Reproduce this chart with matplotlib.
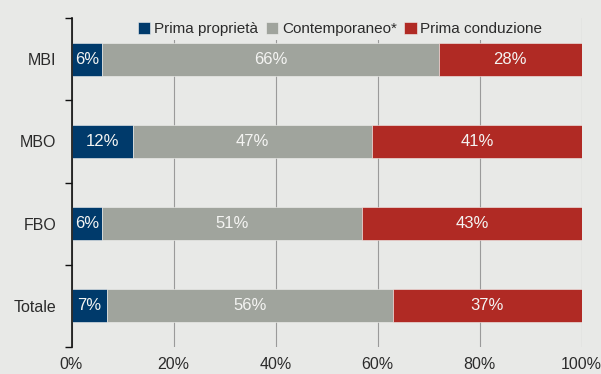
import matplotlib
matplotlib.use("Agg")
import matplotlib.pyplot as plt
import numpy as np

categories = ["MBI", "MBO", "FBO", "Totale"]
series_names = ["Prima proprietà", "Contemporaneo*", "Prima conduzione"]
prima_proprieta = [6, 12, 6, 7]
contemporaneo = [66, 47, 51, 56]
prima_conduzione = [28, 41, 43, 37]
x_ticks = [0, 20, 40, 60, 80, 100]
x_tick_labels = ["0%", "20%", "40%", "60%", "80%", "100%"]

colors = ["#003a6b", "#a0a49d", "#b02a24"]
bg = "#e8e9e7"
text_col = "#2b2b2b"

plt.rcParams["font.family"] = ["Liberation Sans", "DejaVu Sans"]

fig = plt.figure(figsize=(6.01, 3.74), dpi=100, facecolor=bg)
ax = fig.add_axes([71.5 / 601, 27 / 374, 510 / 601, 329 / 374], facecolor=bg)

y = np.arange(len(categories))
left = np.zeros(len(categories))
for name, vals, c in zip(series_names, [prima_proprieta, contemporaneo, prima_conduzione], colors):
    vals = np.array(vals, dtype=float)
    ax.barh(y, vals, left=left, height=0.4, color=c, label=name,
            edgecolor="#f2f2f0", linewidth=0.4, zorder=3)
    for yi, l, v in zip(y, left, vals):
        ax.text(l + v / 2, yi, f"{int(v)}%", ha="center", va="center",
                color="#f4f4f2", fontsize=12, zorder=4)
    left += vals

ax.set_xlim(0, 100)
ax.set_ylim(3.5, -0.5)
ax.set_xticks(x_ticks)
ax.set_xticklabels(x_tick_labels, fontsize=11.5, color=text_col)
ax.tick_params(axis="x", length=0, pad=7)
ax.set_yticks(y)
ax.set_yticklabels(categories, fontsize=11.5, color=text_col)
ax.set_yticks(np.arange(-0.5, len(categories), 1.0), minor=True)
ax.tick_params(axis="y", which="major", length=0, pad=11)
ax.tick_params(axis="y", which="minor", length=5, width=1, color="#111111", direction="out")

ax.grid(axis="x", color="#9a9a9a", linewidth=0.8, zorder=0)
ax.set_axisbelow(True)
for s in ["top", "right", "bottom"]:
    ax.spines[s].set_visible(False)
ax.spines["left"].set_color("#111111")
ax.spines["left"].set_linewidth(1.2)
ax.spines["left"].set_zorder(5)

leg = ax.legend(loc="center", bbox_to_anchor=(0.527, 0.967), ncol=3, frameon=True,
                fontsize=11, handlelength=0.8, handleheight=0.9, handletextpad=0.25,
                columnspacing=0.5, borderpad=0.25, borderaxespad=0)
leg.get_frame().set_facecolor(bg)
leg.get_frame().set_edgecolor("none")
leg.get_frame().set_alpha(1)
leg.set_zorder(6)
for t in leg.get_texts():
    t.set_color(text_col)

fig.savefig("out.png", dpi=100, facecolor=bg)
